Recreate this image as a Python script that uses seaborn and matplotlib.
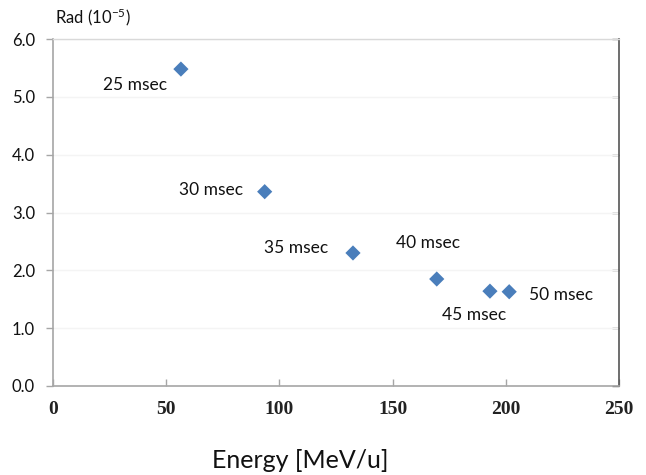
import matplotlib
matplotlib.use("Agg")
import matplotlib.pyplot as plt
import seaborn as sns
import pandas as pd

# Pulse length, beam energy and radiation dose per point
pulse_labels = ["25 msec", "30 msec", "35 msec", "40 msec", "45 msec", "50 msec"]
energy = [56.5, 93.5, 132.5, 169.5, 193.0, 201.5]
rad = [5.48, 3.36, 2.30, 1.85, 1.64, 1.63]

x_ticks = [0, 50, 100, 150, 200, 250]
y_ticks = [0.0, 1.0, 2.0, 3.0, 4.0, 5.0, 6.0]

# label offsets from each marker, in pixels
label_dx = [-46, -54, -57, -9, -16, 52]
label_dy = [-16, 2, 5, 36, -24, -3]

df = pd.DataFrame({"energy": energy, "rad": rad, "pulse": pulse_labels})

sns.set_theme(style="white")
plt.rcParams["font.family"] = ["Lato", "DejaVu Sans"]
plt.rcParams["mathtext.fontset"] = "custom"
plt.rcParams["mathtext.rm"] = "Lato"
plt.rcParams["mathtext.default"] = "regular"

fig = plt.figure(figsize=(6.46, 4.75), dpi=100)
ax = fig.add_axes([53 / 646, 1 - 386 / 475, (619 - 53) / 646, (386 - 39) / 475])

sns.scatterplot(data=df, x="energy", y="rad", marker="D", s=60,
                color="#4a7ebb", edgecolor="none", ax=ax, zorder=3)

for lab, xv, yv, dx, dy in zip(pulse_labels, energy, rad, label_dx, label_dy):
    ax.annotate(lab, (xv, yv), xytext=(dx, dy), textcoords="offset pixels",
                ha="center", va="center", fontsize=12.5, color="#111111")

ax.set_xlim(0, 250)
ax.set_ylim(0, 6)
ax.set_xticks(x_ticks)
ax.set_yticks(y_ticks)
ax.set_xticklabels([str(t) for t in x_ticks], family="Liberation Serif",
                   fontweight="bold", fontsize=14, color="#222222")
ax.set_yticklabels([f"{t:.1f}" for t in y_ticks], fontsize=12, color="#111111")

ax.yaxis.grid(True, color="#f4f4f4", linewidth=1.0)
ax.set_axisbelow(True)

for side in ["left", "bottom"]:
    ax.spines[side].set_color("#a6a6a6")
    ax.spines[side].set_linewidth(1.2)
ax.spines["top"].set_color("#d9d9d9")
ax.spines["top"].set_linewidth(1.0)
ax.spines["right"].set_color("#555555")
ax.spines["right"].set_linewidth(1.2)

ax.tick_params(axis="y", which="major", left=True, right=False, direction="out",
               length=5, width=1, color="#a6a6a6", pad=8)
ax.tick_params(axis="x", which="major", bottom=True, direction="in",
               length=5, width=1, color="#a6a6a6", pad=11)

# inward ticks along the right edge
sec = ax.secondary_yaxis("right")
sec.set_yticks(y_ticks)
sec.tick_params(direction="in", length=5, width=1, color="#555555", labelright=False)
sec.spines["right"].set_visible(False)

ax.set_xlabel("")
ax.set_ylabel("")
fig.text(300 / 646, 1 - 460 / 475, "Energy [MeV/u]", fontsize=18,
         ha="center", va="center", color="#111111")
fig.text(55 / 646, 1 - 17 / 475, r"Rad (10$^{-5}$)", fontsize=12,
         ha="left", va="center", color="#111111")

fig.savefig("out.png", dpi=100)
